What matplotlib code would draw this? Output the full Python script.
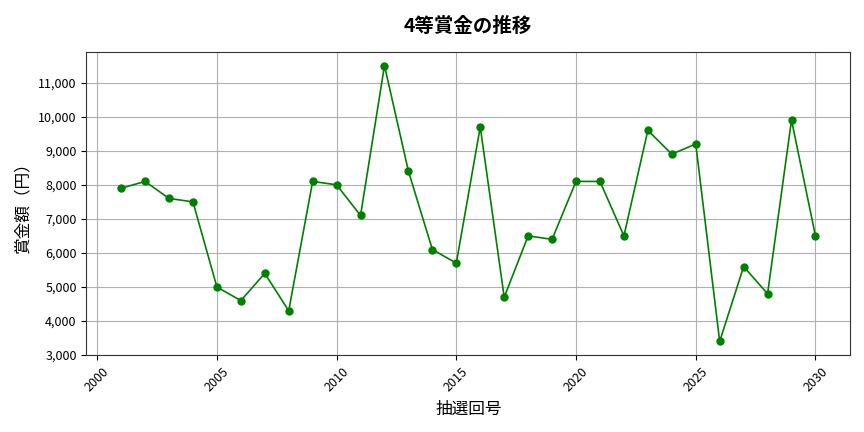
import matplotlib
matplotlib.use("Agg")
import matplotlib.pyplot as plt
from matplotlib.ticker import FuncFormatter

plt.rcParams['font.family'] = ['Noto Sans CJK JP', 'DejaVu Sans']

years = list(range(2001, 2031))
prizes = [7900, 8100, 7600, 7500, 5000, 4600, 5400, 4300, 8100, 8000,
          7100, 11500, 8400, 6100, 5700, 9700, 4700, 6500, 6400, 8100,
          8100, 6500, 9600, 8900, 9200, 3400, 5600, 4800, 9900, 6500]

fig, ax = plt.subplots(figsize=(8.64, 4.32), dpi=100)
ax.plot(years, prizes, color='green', marker='o', markersize=5, linewidth=1.2)
ax.set_ylim(bottom=3000)
ax.set_title('4等賞金の推移', fontsize=14, fontweight='bold', pad=14)
ax.set_xlabel('抽選回号', fontsize=12, labelpad=5)
ax.set_ylabel('賞金額（円）', fontsize=12, labelpad=5)
ax.yaxis.set_major_formatter(FuncFormatter(lambda v, p: f'{int(v):,}'))
ax.tick_params(axis='both', labelsize=9)
plt.setp(ax.get_xticklabels(), rotation=45)
ax.grid(True, color='#b0b0b0', linewidth=0.8)
for s in ax.spines.values():
    s.set_color('#333333')
fig.subplots_adjust(left=0.1, right=0.984, top=0.88, bottom=0.178)
fig.savefig('out.png', dpi=100)
